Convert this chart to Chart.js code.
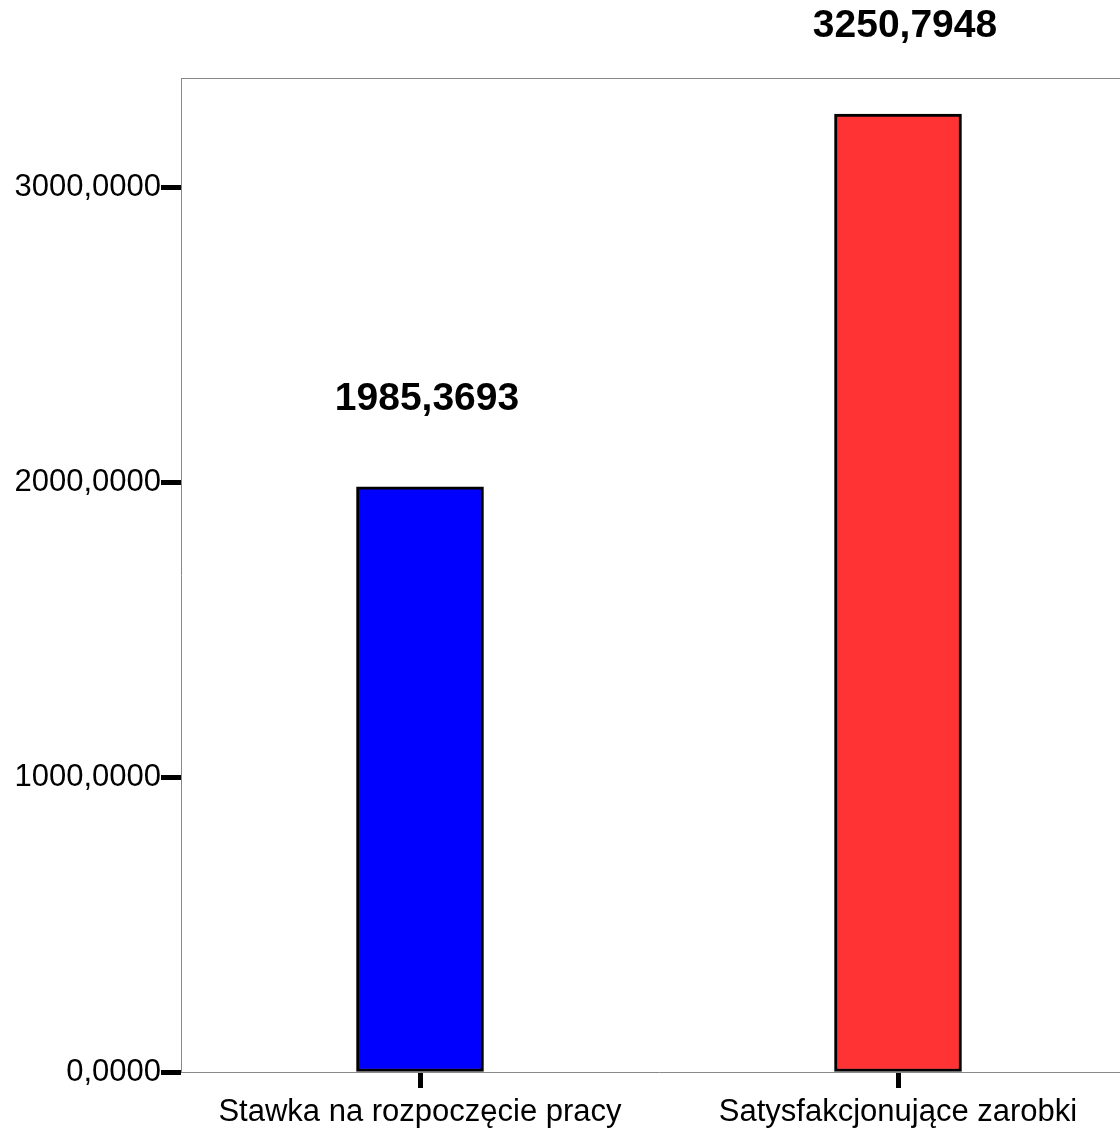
<!DOCTYPE html>
<html>
<head>
<meta charset="utf-8">
<script src="https://cdn.jsdelivr.net/npm/chart.js@4"></script>
<style>
  html, body { margin: 0; padding: 0; background: #fff; overflow: hidden; }
  #wrap { width: 1137px; height: 1136px; }
</style>
</head>
<body>
<div id="wrap"><canvas id="myChart"></canvas></div>
<script>
const categories = ["Stawka na rozpoczęcie pracy", "Satysfakcjonujące zarobki"];
const values = [1985.3693, 3250.7948];
const barColors = ["#0000ff", "#ff3333"];
const yTicks = [0, 1000, 2000, 3000];
const yMax = 3373;

const fmt = v => v.toFixed(4).replace(".", ",");

// rysuje ramkę i etykiety wartości nad słupkami
const extras = {
  id: "extras",
  afterDraw(chart) {
    const ctx = chart.ctx;
    const a = chart.chartArea;
    ctx.save();
    ctx.strokeStyle = "#888";
    ctx.lineWidth = 1;
    ctx.beginPath();
    ctx.moveTo(a.left, a.top + 0.5);
    ctx.lineTo(a.right, a.top + 0.5);
    ctx.stroke();

    ctx.fillStyle = "#000";
    ctx.font = "bold 39px 'Liberation Sans', Arial, sans-serif";
    ctx.textAlign = "center";
    ctx.textBaseline = "middle";
    chart.getDatasetMeta(0).data.forEach((bar, i) => {
      ctx.fillText(fmt(values[i]), bar.x + 7, bar.y - 88);
    });
    ctx.restore();
  }
};

const ctx = document.getElementById("myChart").getContext("2d");
const myChart = new Chart(ctx, {
  type: "bar",
  data: {
    labels: categories,
    datasets: [{
      data: values,
      backgroundColor: barColors,
      borderColor: "#000",
      borderWidth: 3,
      borderSkipped: false,
      barThickness: 127
    }]
  },
  options: {
    responsive: true,
    maintainAspectRatio: false,
    animation: false,
    layout: { padding: { top: 78, left: 0, right: 0, bottom: 0 } },
    plugins: { legend: { display: false }, tooltip: { enabled: false } },
    scales: {
      x: {
        offset: true,
        border: { display: true, color: "#888", width: 1 },
        grid: {
          offset: false,
          drawOnChartArea: false,
          drawTicks: true,
          tickLength: 16,
          tickWidth: 5,
          tickColor: "#000"
        },
        ticks: {
          color: "#000",
          padding: 6,
          maxRotation: 0,
          font: { family: "'Liberation Sans', Arial, sans-serif", size: 31 }
        },
        afterFit: s => { s.height = 64; }
      },
      y: {
        min: 0,
        max: yMax,
        border: { display: true, color: "#888", width: 1 },
        grid: {
          drawOnChartArea: false,
          drawTicks: true,
          tickLength: 20,
          tickWidth: 5,
          tickColor: "#000"
        },
        afterBuildTicks: s => { s.ticks = yTicks.map(v => ({ value: v })); },
        ticks: {
          color: "#000",
          padding: 0,
          callback: v => fmt(v),
          font: { family: "'Liberation Sans', Arial, sans-serif", size: 31 }
        },
        afterFit: s => { s.width = 181; }
      }
    }
  },
  plugins: [extras]
});
</script>
</body>
</html>
